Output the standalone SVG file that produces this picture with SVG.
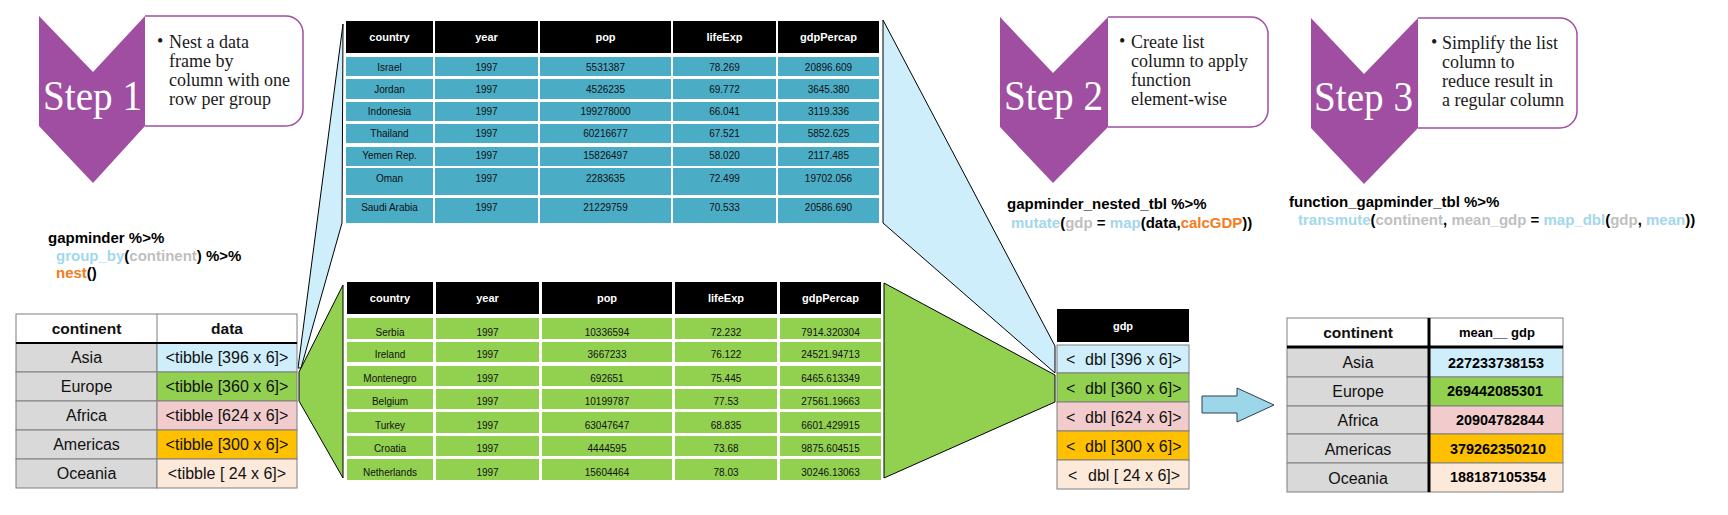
<svg xmlns="http://www.w3.org/2000/svg" width="1728" height="515" viewBox="0 0 1728 515">
<style>
.chev{fill:#a04ea1}
.sbox{fill:#ffffff;stroke:#a04ea1;stroke-width:1.5}
.step{font-family:"Liberation Serif",serif;font-size:42px;fill:#ffffff}
.bul{font-family:"Liberation Serif",serif;font-size:18px;fill:#1a1a1a}
.code{font-family:"Liberation Sans",Arial,sans-serif;font-size:15px;font-weight:bold;fill:#000}
.lb{fill:#a3d7ec}.gr{fill:#bfbfbf}.or{fill:#f47c21}
.wedge{stroke:#000;stroke-width:1}
.th{fill:#000}
.tht{font-family:"Liberation Sans",Arial,sans-serif;font-size:11px;font-weight:bold;fill:#fff;text-anchor:middle}
.td{font-family:"Liberation Sans",Arial,sans-serif;font-size:10px;fill:#111;text-anchor:middle}
.bc{fill:#4bacc6}.gc{fill:#92d050}
.cell{stroke:#7f7f7f;stroke-width:1}
.t16{font-family:"Liberation Sans",Arial,sans-serif;font-size:16px;fill:#111;text-anchor:middle}
.h16{font-family:"Liberation Sans",Arial,sans-serif;font-size:15.5px;font-weight:bold;fill:#111;text-anchor:middle}
.num{font-family:"Liberation Sans",Arial,sans-serif;font-size:14.4px;font-weight:bold;fill:#000;text-anchor:middle}
.gray{fill:#d9d9d9}.c1{fill:#cdeefa}.c2{fill:#92d050}.c3{fill:#f2cccc}.c4{fill:#ffc000}.c5{fill:#fde9d9}
</style>

<g id="connectors">
  <polygon class="wedge" fill="#cdeefa" points="343,24 342,223 301,368 298,368"/>
  <polygon class="wedge" fill="#92d050" points="343,285 343,478 299,401 299,372"/>
  <polygon class="wedge" fill="#cdeefa" points="883,20 1055,346 1055,373 883,223"/>
  <polygon class="wedge" fill="#92d050" points="884,283 1055,375 1055,402 884,478"/>
  <polygon fill="#9bd7e8" stroke="#2f3e4e" stroke-width="1" points="1202,396 1237,396 1237,388 1274,405 1237,422 1237,413 1202,413"/>
</g>

<g id="step1">
  <path class="sbox" d="M145,16 H286 A17,17 0 0 1 303,33 V109 A17,17 0 0 1 286,126 H145"/>
  <polygon class="chev" points="39,16 93,72 145,16 145,126 93,183 39,126"/>
  <text class="step" x="43" y="110" textLength="99" lengthAdjust="spacingAndGlyphs">Step 1</text>
  <text class="bul" x="157" y="47">•</text>
  <text class="bul" x="169" y="48">Nest a data</text>
  <text class="bul" x="169" y="67">frame by</text>
  <text class="bul" x="169" y="86">column with one</text>
  <text class="bul" x="169" y="105">row per group</text>
</g>

<g id="code1">
  <text class="code" x="48" y="243">gapminder %&gt;%</text>
  <text class="code" x="56" y="261"><tspan class="lb">group_by</tspan>(<tspan class="gr">continent</tspan>) %&gt;%</text>
  <text class="code" x="56" y="278"><tspan class="or">nest</tspan>()</text>
</g>

<g id="table-nested">
  <rect x="16" y="314" width="281" height="29" fill="#fff" stroke="#7f7f7f"/>
  <line x1="157" y1="314" x2="157" y2="343" stroke="#7f7f7f"/>
  <text class="h16" x="86.5" y="334">continent</text>
  <text class="h16" x="227" y="334">data</text>
  <rect class="gray cell" x="16" y="343" width="141" height="29"/>
  <rect class="c1 cell" x="157" y="343" width="140" height="29"/>
  <rect class="gray cell" x="16" y="372" width="141" height="29"/>
  <rect class="c2 cell" x="157" y="372" width="140" height="29"/>
  <rect class="gray cell" x="16" y="401" width="141" height="29"/>
  <rect class="c3 cell" x="157" y="401" width="140" height="29"/>
  <rect class="gray cell" x="16" y="430" width="141" height="29"/>
  <rect class="c4 cell" x="157" y="430" width="140" height="29"/>
  <rect class="gray cell" x="16" y="459" width="141" height="29"/>
  <rect class="c5 cell" x="157" y="459" width="140" height="29"/>
  <line x1="16" y1="343" x2="297" y2="343" stroke="#000" stroke-width="2"/>
  <text class="t16" x="86.5" y="363">Asia</text>
  <text class="t16" x="86.5" y="392">Europe</text>
  <text class="t16" x="86.5" y="421">Africa</text>
  <text class="t16" x="86.5" y="450">Americas</text>
  <text class="t16" x="86.5" y="479">Oceania</text>
  <text class="t16" x="227" y="363">&lt;tibble [396 x 6]&gt;</text>
  <text class="t16" x="227" y="392">&lt;tibble [360 x 6]&gt;</text>
  <text class="t16" x="227" y="421">&lt;tibble [624 x 6]&gt;</text>
  <text class="t16" x="227" y="450">&lt;tibble [300 x 6]&gt;</text>
  <text class="t16" x="227" y="479">&lt;tibble [ 24 x 6]&gt;</text>
</g>

<g id="table-asia">
  <rect class="th" x="346" y="21" width="87" height="32"/>
  <rect class="th" x="435" y="21" width="103" height="32"/>
  <rect class="th" x="540" y="21" width="131" height="32"/>
  <rect class="th" x="673" y="21" width="103" height="32"/>
  <rect class="th" x="778" y="21" width="101" height="32"/>
  <text class="tht" x="389.5" y="41">country</text>
  <text class="tht" x="486.5" y="41">year</text>
  <text class="tht" x="605.5" y="41">pop</text>
  <text class="tht" x="724.5" y="41">lifeExp</text>
  <text class="tht" x="828.5" y="41">gdpPercap</text>
  <g class="bc">
    <rect x="346" y="57" width="87" height="19"/><rect x="435" y="57" width="103" height="19"/><rect x="540" y="57" width="131" height="19"/><rect x="673" y="57" width="103" height="19"/><rect x="778" y="57" width="101" height="19"/>
    <rect x="346" y="79" width="87" height="20"/><rect x="435" y="79" width="103" height="20"/><rect x="540" y="79" width="131" height="20"/><rect x="673" y="79" width="103" height="20"/><rect x="778" y="79" width="101" height="20"/>
    <rect x="346" y="102" width="87" height="19"/><rect x="435" y="102" width="103" height="19"/><rect x="540" y="102" width="131" height="19"/><rect x="673" y="102" width="103" height="19"/><rect x="778" y="102" width="101" height="19"/>
    <rect x="346" y="124" width="87" height="19"/><rect x="435" y="124" width="103" height="19"/><rect x="540" y="124" width="131" height="19"/><rect x="673" y="124" width="103" height="19"/><rect x="778" y="124" width="101" height="19"/>
    <rect x="346" y="147" width="87" height="19"/><rect x="435" y="147" width="103" height="19"/><rect x="540" y="147" width="131" height="19"/><rect x="673" y="147" width="103" height="19"/><rect x="778" y="147" width="101" height="19"/>
    <rect x="346" y="168" width="87" height="27"/><rect x="435" y="168" width="103" height="27"/><rect x="540" y="168" width="131" height="27"/><rect x="673" y="168" width="103" height="27"/><rect x="778" y="168" width="101" height="27"/>
    <rect x="346" y="198" width="87" height="25"/><rect x="435" y="198" width="103" height="25"/><rect x="540" y="198" width="131" height="25"/><rect x="673" y="198" width="103" height="25"/><rect x="778" y="198" width="101" height="25"/>
  </g>
  <text class="td" x="389.5" y="70.5">Israel</text><text class="td" x="486.5" y="70.5">1997</text><text class="td" x="605.5" y="70.5">5531387</text><text class="td" x="724.5" y="70.5">78.269</text><text class="td" x="828.5" y="70.5">20896.609</text>
  <text class="td" x="389.5" y="92.5">Jordan</text><text class="td" x="486.5" y="92.5">1997</text><text class="td" x="605.5" y="92.5">4526235</text><text class="td" x="724.5" y="92.5">69.772</text><text class="td" x="828.5" y="92.5">3645.380</text>
  <text class="td" x="389.5" y="114.5">Indonesia</text><text class="td" x="486.5" y="114.5">1997</text><text class="td" x="605.5" y="114.5">199278000</text><text class="td" x="724.5" y="114.5">66.041</text><text class="td" x="828.5" y="114.5">3119.336</text>
  <text class="td" x="389.5" y="136.5">Thailand</text><text class="td" x="486.5" y="136.5">1997</text><text class="td" x="605.5" y="136.5">60216677</text><text class="td" x="724.5" y="136.5">67.521</text><text class="td" x="828.5" y="136.5">5852.625</text>
  <text class="td" x="389.5" y="158.5">Yemen Rep.</text><text class="td" x="486.5" y="158.5">1997</text><text class="td" x="605.5" y="158.5">15826497</text><text class="td" x="724.5" y="158.5">58.020</text><text class="td" x="828.5" y="158.5">2117.485</text>
  <text class="td" x="389.5" y="181.5">Oman</text><text class="td" x="486.5" y="181.5">1997</text><text class="td" x="605.5" y="181.5">2283635</text><text class="td" x="724.5" y="181.5">72.499</text><text class="td" x="828.5" y="181.5">19702.056</text>
  <text class="td" x="389.5" y="210.5">Saudi Arabia</text><text class="td" x="486.5" y="210.5">1997</text><text class="td" x="605.5" y="210.5">21229759</text><text class="td" x="724.5" y="210.5">70.533</text><text class="td" x="828.5" y="210.5">20586.690</text>
</g>

<g id="table-europe">
  <rect class="th" x="347" y="282" width="86" height="32"/>
  <rect class="th" x="436" y="282" width="103" height="32"/>
  <rect class="th" x="542" y="282" width="130" height="32"/>
  <rect class="th" x="675" y="282" width="102" height="32"/>
  <rect class="th" x="780" y="282" width="101" height="32"/>
  <text class="tht" x="390" y="302">country</text>
  <text class="tht" x="487.5" y="302">year</text>
  <text class="tht" x="607" y="302">pop</text>
  <text class="tht" x="726" y="302">lifeExp</text>
  <text class="tht" x="830.5" y="302">gdpPercap</text>
  <g class="gc">
    <rect x="347" y="318" width="86" height="21"/><rect x="436" y="318" width="103" height="21"/><rect x="542" y="318" width="130" height="21"/><rect x="675" y="318" width="102" height="21"/><rect x="780" y="318" width="101" height="21"/>
    <rect x="347" y="342" width="86" height="20"/><rect x="436" y="342" width="103" height="20"/><rect x="542" y="342" width="130" height="20"/><rect x="675" y="342" width="102" height="20"/><rect x="780" y="342" width="101" height="20"/>
    <rect x="347" y="366" width="86" height="20"/><rect x="436" y="366" width="103" height="20"/><rect x="542" y="366" width="130" height="20"/><rect x="675" y="366" width="102" height="20"/><rect x="780" y="366" width="101" height="20"/>
    <rect x="347" y="389" width="86" height="20"/><rect x="436" y="389" width="103" height="20"/><rect x="542" y="389" width="130" height="20"/><rect x="675" y="389" width="102" height="20"/><rect x="780" y="389" width="101" height="20"/>
    <rect x="347" y="412" width="86" height="21"/><rect x="436" y="412" width="103" height="21"/><rect x="542" y="412" width="130" height="21"/><rect x="675" y="412" width="102" height="21"/><rect x="780" y="412" width="101" height="21"/>
    <rect x="347" y="436" width="86" height="20"/><rect x="436" y="436" width="103" height="20"/><rect x="542" y="436" width="130" height="20"/><rect x="675" y="436" width="102" height="20"/><rect x="780" y="436" width="101" height="20"/>
    <rect x="347" y="459" width="86" height="21"/><rect x="436" y="459" width="103" height="21"/><rect x="542" y="459" width="130" height="21"/><rect x="675" y="459" width="102" height="21"/><rect x="780" y="459" width="101" height="21"/>
  </g>
  <text class="td" x="390" y="335.5">Serbia</text><text class="td" x="487.5" y="335.5">1997</text><text class="td" x="607" y="335.5">10336594</text><text class="td" x="726" y="335.5">72.232</text><text class="td" x="830.5" y="335.5">7914.320304</text>
  <text class="td" x="390" y="357.5">Ireland</text><text class="td" x="487.5" y="357.5">1997</text><text class="td" x="607" y="357.5">3667233</text><text class="td" x="726" y="357.5">76.122</text><text class="td" x="830.5" y="357.5">24521.94713</text>
  <text class="td" x="390" y="381.5">Montenegro</text><text class="td" x="487.5" y="381.5">1997</text><text class="td" x="607" y="381.5">692651</text><text class="td" x="726" y="381.5">75.445</text><text class="td" x="830.5" y="381.5">6465.613349</text>
  <text class="td" x="390" y="404.5">Belgium</text><text class="td" x="487.5" y="404.5">1997</text><text class="td" x="607" y="404.5">10199787</text><text class="td" x="726" y="404.5">77.53</text><text class="td" x="830.5" y="404.5">27561.19663</text>
  <text class="td" x="390" y="428.5">Turkey</text><text class="td" x="487.5" y="428.5">1997</text><text class="td" x="607" y="428.5">63047647</text><text class="td" x="726" y="428.5">68.835</text><text class="td" x="830.5" y="428.5">6601.429915</text>
  <text class="td" x="390" y="451.5">Croatia</text><text class="td" x="487.5" y="451.5">1997</text><text class="td" x="607" y="451.5">4444595</text><text class="td" x="726" y="451.5">73.68</text><text class="td" x="830.5" y="451.5">9875.604515</text>
  <text class="td" x="390" y="475.5">Netherlands</text><text class="td" x="487.5" y="475.5">1997</text><text class="td" x="607" y="475.5">15604464</text><text class="td" x="726" y="475.5">78.03</text><text class="td" x="830.5" y="475.5">30246.13063</text>
</g>

<g id="step2">
  <path class="sbox" d="M1108,17 H1251 A17,17 0 0 1 1268,34 V110 A17,17 0 0 1 1251,127 H1108"/>
  <polygon class="chev" points="1000,17 1053,73 1108,17 1108,127 1053,183 1000,127"/>
  <text class="step" x="1004" y="110" textLength="99" lengthAdjust="spacingAndGlyphs">Step 2</text>
  <text class="bul" x="1119" y="47">•</text>
  <text class="bul" x="1131" y="48">Create list</text>
  <text class="bul" x="1131" y="67">column to apply</text>
  <text class="bul" x="1131" y="86">function</text>
  <text class="bul" x="1131" y="105">element-wise</text>
</g>

<g id="code2">
  <text class="code" x="1007" y="209">gapminder_nested_tbl %&gt;%</text>
  <text class="code" x="1011" y="228"><tspan class="lb">mutate</tspan>(<tspan class="gr">gdp</tspan> = <tspan class="lb">map</tspan>(data,<tspan class="or">calcGDP</tspan>))</text>
</g>

<g id="table-gdp">
  <rect x="1057" y="309" width="132" height="33" fill="#000"/>
  <text class="tht" x="1123" y="330">gdp</text>
  <rect class="c1 cell" x="1057" y="345" width="132" height="28"/>
  <rect class="c2 cell" x="1057" y="373" width="132" height="29"/>
  <rect class="c3 cell" x="1057" y="402" width="132" height="29"/>
  <rect class="c4 cell" x="1057" y="431" width="132" height="29"/>
  <rect class="c5 cell" x="1057" y="460" width="132" height="29"/>
  <g font-family="'Liberation Sans',Arial,sans-serif" font-size="16" fill="#111">
    <text x="1066" y="365">&lt;</text><text x="1085" y="365">dbl [396 x 6]&gt;</text>
    <text x="1066" y="394">&lt;</text><text x="1085" y="394">dbl [360 x 6]&gt;</text>
    <text x="1066" y="423">&lt;</text><text x="1085" y="423">dbl [624 x 6]&gt;</text>
    <text x="1066" y="452">&lt;</text><text x="1085" y="452">dbl [300 x 6]&gt;</text>
    <text x="1068" y="481">&lt;</text><text x="1088" y="481">dbl [ 24 x 6]&gt;</text>
  </g>
</g>

<g id="step3">
  <path class="sbox" d="M1418,18 H1560 A17,17 0 0 1 1577,35 V111 A17,17 0 0 1 1560,128 H1418"/>
  <polygon class="chev" points="1311,18 1364,74 1418,18 1418,128 1364,184 1311,128"/>
  <text class="step" x="1314" y="111" textLength="99" lengthAdjust="spacingAndGlyphs">Step 3</text>
  <text class="bul" x="1431" y="48">•</text>
  <text class="bul" x="1442" y="49">Simplify the list</text>
  <text class="bul" x="1442" y="68">column to</text>
  <text class="bul" x="1442" y="87">reduce result in</text>
  <text class="bul" x="1442" y="106">a regular column</text>
</g>

<g id="code3">
  <text class="code" x="1289" y="207">function_gapminder_tbl %&gt;%</text>
  <text class="code" x="1298" y="225"><tspan class="lb">transmute</tspan>(<tspan class="gr">continent</tspan>, <tspan class="gr">mean_gdp</tspan> = <tspan class="lb">map_dbl</tspan>(<tspan class="gr">gdp</tspan>, <tspan class="lb">mean</tspan>))</text>
</g>

<g id="table-result">
  <rect x="1287" y="318" width="276" height="29" fill="#fff" stroke="#7f7f7f"/>
  <text class="h16" x="1358" y="338">continent</text>
  <text x="1497" y="337" font-family="'Liberation Sans',Arial,sans-serif" font-size="13" font-weight="bold" fill="#000" text-anchor="middle">mean__ gdp</text>
  <rect class="gray cell" x="1287" y="347" width="142" height="30"/>
  <rect class="c1 cell" x="1429" y="347" width="134" height="30"/>
  <rect class="gray cell" x="1287" y="377" width="142" height="29"/>
  <rect class="c2 cell" x="1429" y="377" width="134" height="29"/>
  <rect class="gray cell" x="1287" y="406" width="142" height="28"/>
  <rect class="c3 cell" x="1429" y="406" width="134" height="28"/>
  <rect class="gray cell" x="1287" y="434" width="142" height="29"/>
  <rect class="c4 cell" x="1429" y="434" width="134" height="29"/>
  <rect class="gray cell" x="1287" y="463" width="142" height="29"/>
  <rect class="c5 cell" x="1429" y="463" width="134" height="29"/>
  <line x1="1287" y1="347" x2="1563" y2="347" stroke="#000" stroke-width="3"/>
  <line x1="1429" y1="318" x2="1429" y2="492" stroke="#000" stroke-width="3"/>
  <text class="t16" x="1358" y="368">Asia</text>
  <text class="t16" x="1358" y="397">Europe</text>
  <text class="t16" x="1358" y="426">Africa</text>
  <text class="t16" x="1358" y="455">Americas</text>
  <text class="t16" x="1358" y="484">Oceania</text>
  <text class="num" x="1496" y="368">227233738153</text>
  <text class="num" x="1495" y="396">269442085301</text>
  <text class="num" x="1500" y="425">20904782844</text>
  <text class="num" x="1498" y="454">379262350210</text>
  <text class="num" x="1498" y="482">188187105354</text>
</g>
</svg>
